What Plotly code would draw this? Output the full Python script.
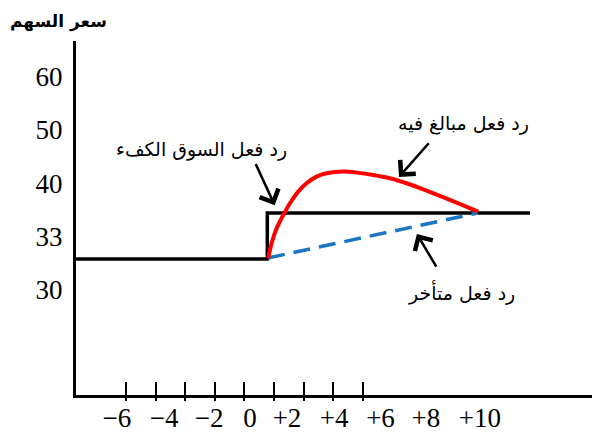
import plotly.graph_objects as go

# ---- data (schematic units) ----
tick_marks = [-6, -4, -2, 0, 2, 4, 6, 8, 10]
tick_label_pos = [-6.61, -3.43, -0.39, 2.38, 4.88, 8.06, 11.2, 14.27, 17.92]
tick_labels = ["\u22126", "\u22124", "\u22122", "0", "+2", "+4", "+6", "+8", "+10"]

y_tick_pos = [0, 1, 2, 3, 4]
y_tick_labels = ["30", "33", "40", "50", "60"]

efficient_x = [-9.38, 3.55, 3.55, 21.3]
efficient_y = [0.58, 0.58, 1.445, 1.445]

over_x = [3.61, 3.84, 4.18, 4.63, 5.08, 5.64, 6.20, 6.88, 7.56, 8.68, 9.59,
          10.71, 11.84, 12.96, 14.09, 15.22, 16.34, 17.80]
over_y = [0.595, 0.876, 1.157, 1.407, 1.626, 1.844, 2.001, 2.126, 2.189, 2.220, 2.201,
          2.158, 2.096, 2.002, 1.889, 1.764, 1.638, 1.469]

delayed_x = [3.6, 17.78]
delayed_y = [0.60, 1.445]

label_efficient = "رد فعل السوق الكفء"
label_over = "رد فعل مبالغ فيه"
label_delayed = "رد فعل متأخر"
y_title = "سعر السهم"

fig = go.Figure()
fig.add_trace(go.Scatter(x=efficient_x, y=efficient_y, mode="lines",
                         line=dict(color="black", width=3.5), hoverinfo="skip"))
fig.add_trace(go.Scatter(x=delayed_x, y=delayed_y, mode="lines",
                         line=dict(color="#1a75c2", width=3.5, dash="17px,9px"), hoverinfo="skip"))
fig.add_trace(go.Scatter(x=over_x, y=over_y, mode="lines",
                         line=dict(color="#ff0000", width=4, shape="spline", smoothing=0.8),
                         hoverinfo="skip"))
# dummy traces for overlay axes
fig.add_trace(go.Scatter(x=[0], y=[0], xaxis="x2", mode="markers", marker=dict(opacity=0), hoverinfo="skip"))
fig.add_trace(go.Scatter(x=[0], y=[0], xaxis="x3", mode="markers", marker=dict(opacity=0), hoverinfo="skip"))

xr = [-9.38, 25.9]
fig.update_layout(
    width=600, height=435,
    margin=dict(l=68, r=10, t=33, b=48, autoexpand=False),
    paper_bgcolor="white", plot_bgcolor="white",
    showlegend=False,
    xaxis=dict(range=xr, showgrid=False, zeroline=False, showline=True, automargin=False,
               linecolor="black", linewidth=3,
               tickmode="array", tickvals=tick_marks, showticklabels=False,
               ticks="inside", ticklen=13, tickwidth=2, tickcolor="black"),
    xaxis2=dict(range=xr, overlaying="x", side="bottom", showgrid=False, zeroline=False,
                showline=False, automargin=False,
                tickmode="array", tickvals=tick_label_pos, ticktext=tick_labels,
                ticks="", ticklabelstandoff=4,
                tickfont=dict(family="Liberation Serif, serif", size=27, color="black")),
    xaxis3=dict(range=xr, overlaying="x", side="bottom", showgrid=False, zeroline=False,
                showline=False, automargin=False,
                tickmode="array", tickvals=tick_marks, showticklabels=False,
                ticks="outside", ticklen=5, tickwidth=2, tickcolor="black"),
    yaxis=dict(range=[-1.97, 4.67], showgrid=False, zeroline=False, showline=True, automargin=False,
               linecolor="black", linewidth=3,
               tickmode="array", tickvals=y_tick_pos, ticktext=y_tick_labels,
               ticks="", ticklabelstandoff=5,
               tickfont=dict(family="Liberation Serif, serif", size=27, color="black")),
)

arrow_common = dict(showarrow=True, arrowhead=4, arrowsize=1.6, arrowwidth=2.5,
                    arrowcolor="black", axref="x", ayref="y", text="", standoff=0)
fig.add_annotation(x=4.05, y=1.59, ax=2.72, ay=2.39, **arrow_common)
fig.add_annotation(x=12.45, y=2.12, ax=14.55, ay=2.78, **arrow_common)
fig.add_annotation(x=13.66, y=1.05, ax=15.03, ay=0.41, **arrow_common)

text_font = dict(family="DejaVu Sans, sans-serif", size=19, color="black")
fig.add_annotation(x=-0.93, y=2.63, text=label_efficient, showarrow=False, font=text_font)
fig.add_annotation(x=16.78, y=3.13, text=label_over, showarrow=False, font=text_font)
fig.add_annotation(x=16.7, y=-0.04, text=label_delayed, showarrow=False, font=text_font)

fig.add_annotation(x=-0.0326, y=1.054, xref="paper", yref="paper", xanchor="center", yanchor="middle",
                   text="<b>" + y_title + "</b>", showarrow=False,
                   font=dict(family="DejaVu Sans, sans-serif", size=17, color="black"))

fig.write_html("out.html")
